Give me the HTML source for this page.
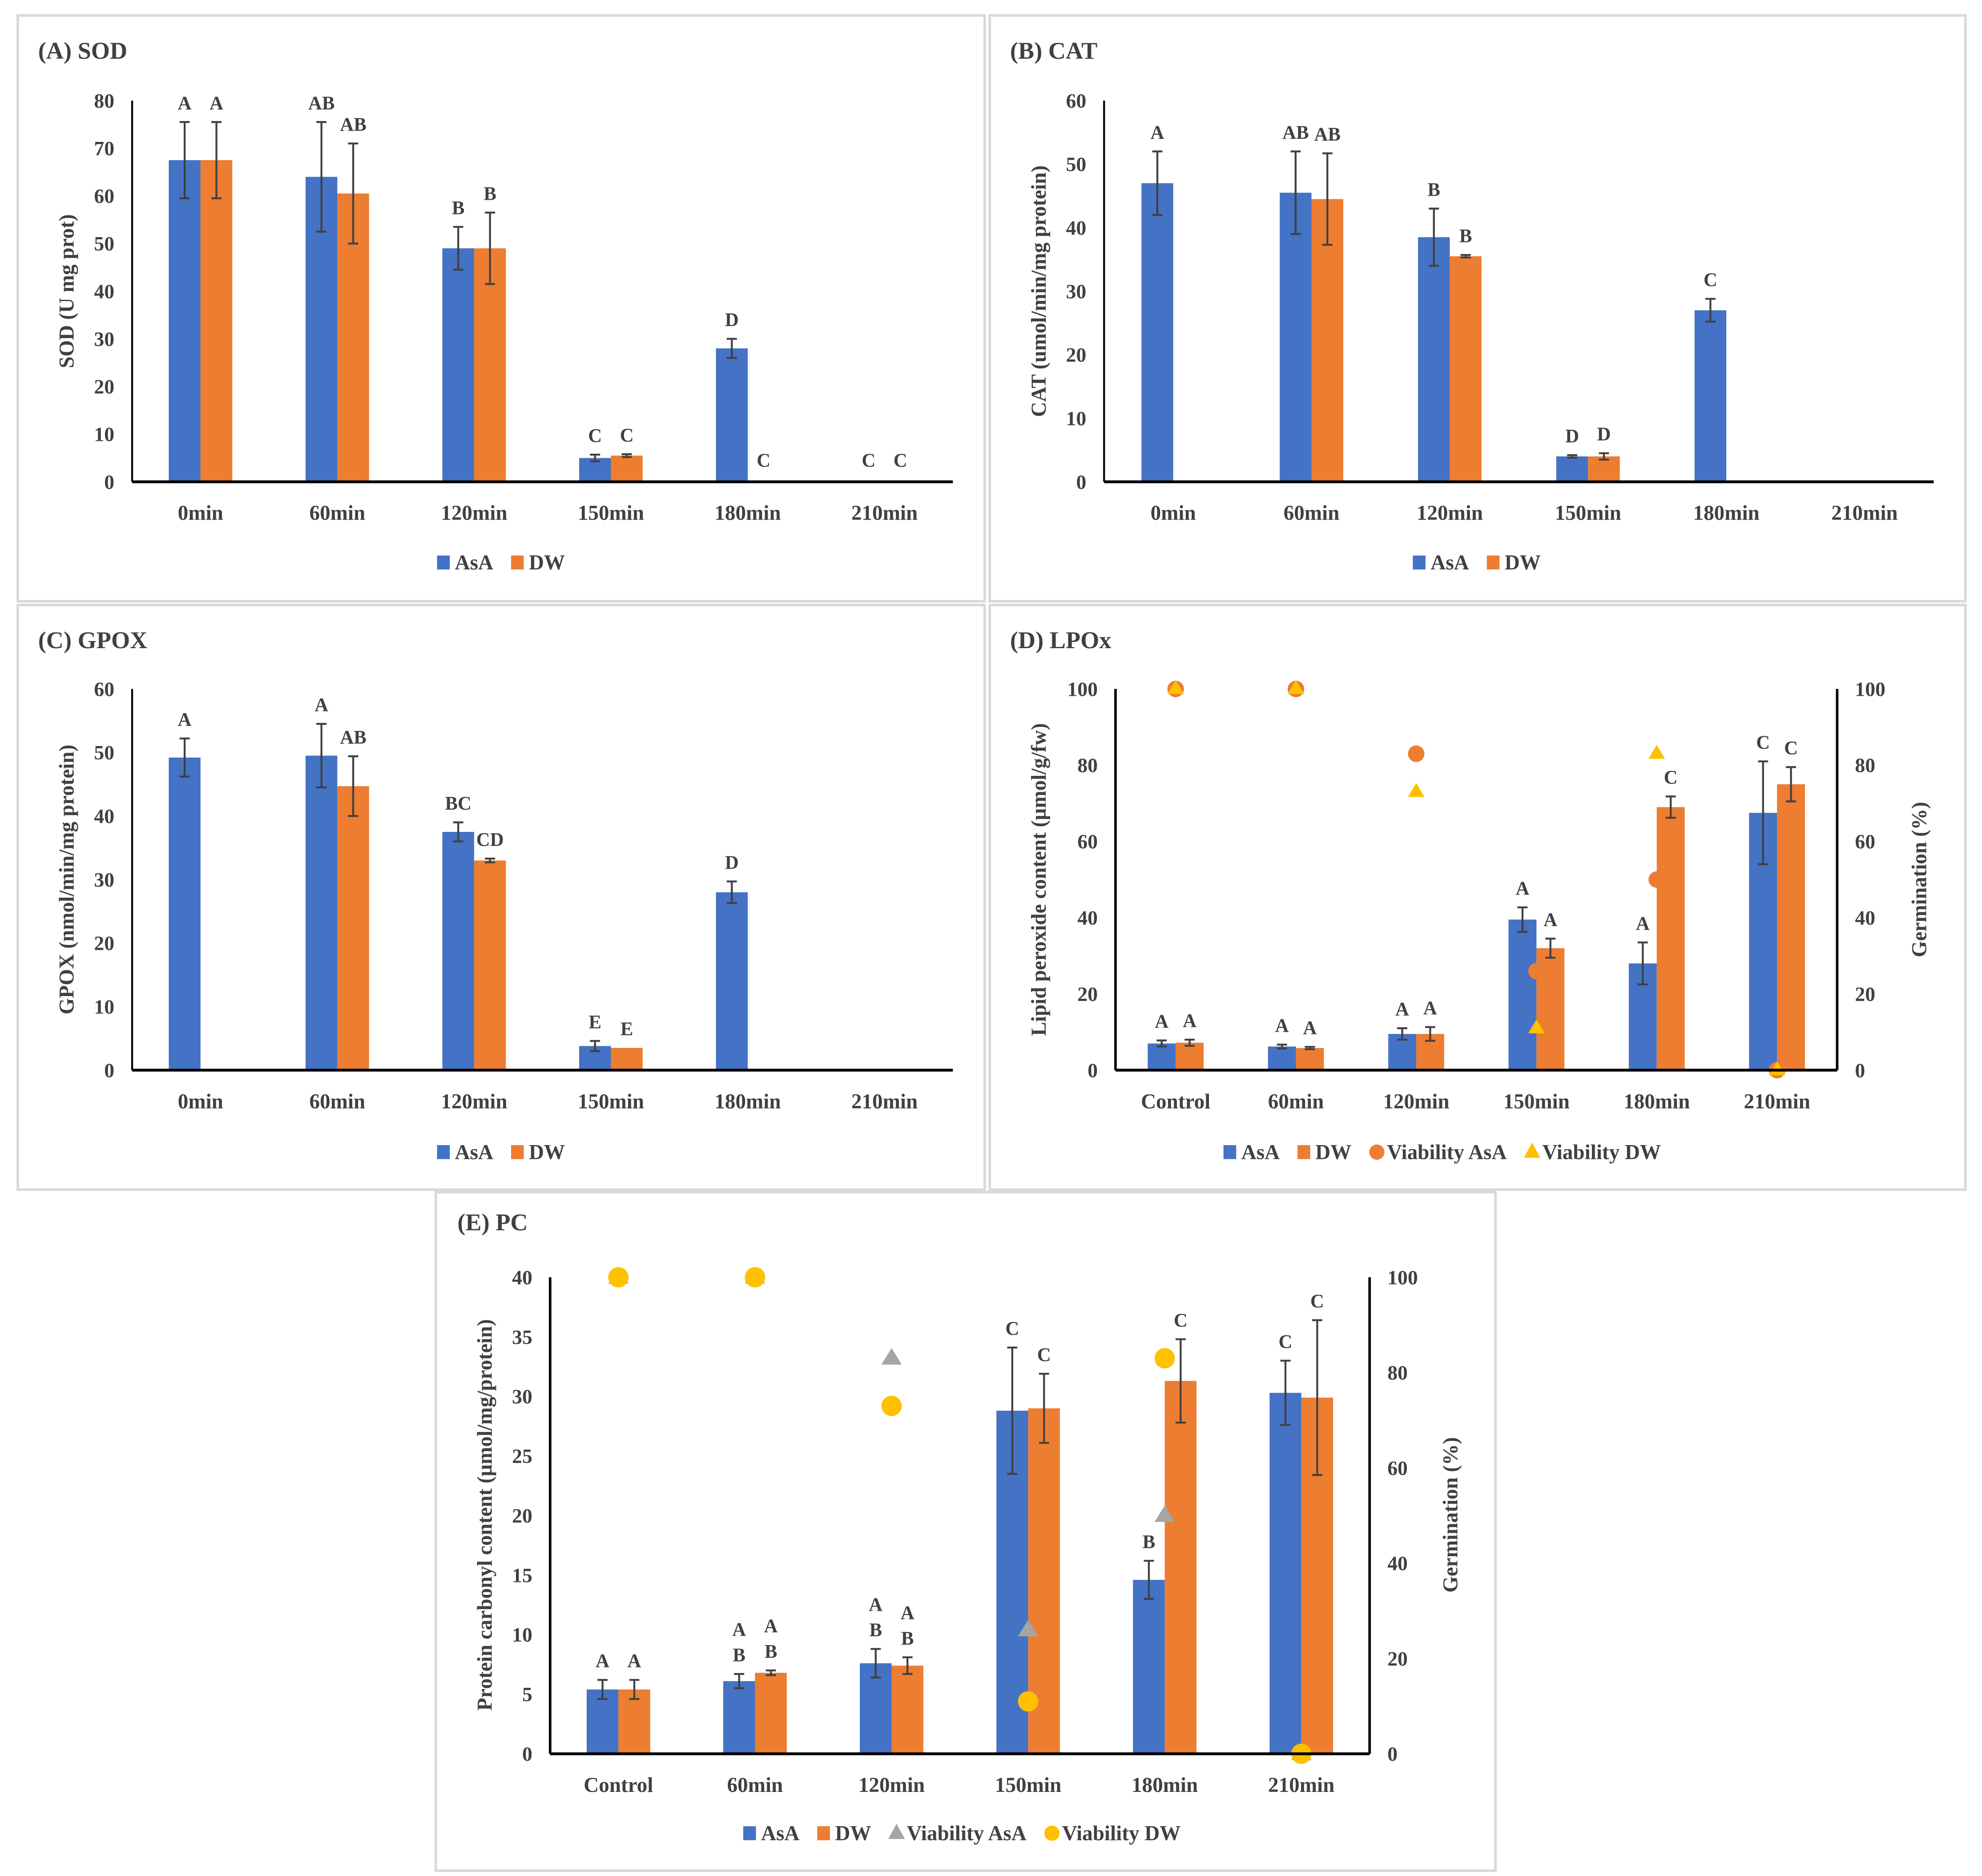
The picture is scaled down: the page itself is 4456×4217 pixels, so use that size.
<!DOCTYPE html>
<html><head><meta charset="utf-8"><title>Antioxidant enzymes panels</title>
<style>
html,body{margin:0;padding:0;background:#fff;}
svg{display:block;font-family:"Liberation Serif",serif;font-weight:bold;}
</style></head>
<body>
<svg id="fig" width="4456" height="4217" viewBox="0 0 1560 1476" xmlns="http://www.w3.org/2000/svg">
<rect x="0" y="0" width="1560" height="1476" fill="#fff"/>
</svg>
<script>
// ---------- data ----------
const catsMin = ["0min","60min","120min","150min","180min","210min"];
const catsCtl = ["Control","60min","120min","150min","180min","210min"];

const sodAsA = [67.5,64,49,5,28,0];
const sodAsAErr = [8,11.5,4.5,0.7,2,0];
const sodDW = [67.5,60.5,49,5.5,0,0];
const sodDWErr = [8,10.5,7.5,0.3,0,0];
const sodAsALet = ["A","AB","B","C","D","C"];
const sodDWLet = ["A","AB","B","C","C","C"];
const sodTicks = [0,10,20,30,40,50,60,70,80];

const catAsA = [47,45.5,38.5,4,27,0];
const catAsAErr = [5,6.5,4.5,0.2,1.8,0];
const catDW = [0,44.5,35.5,4,0,0];
const catDWErr = [0,7.2,0.2,0.5,0,0];
const catAsALet = ["A","AB","B","D","C",""];
const catDWLet = ["","AB","B","D","",""];
const catTicks = [0,10,20,30,40,50,60];

const gpoxAsA = [49.2,49.5,37.5,3.8,28,0];
const gpoxAsAErr = [3,5,1.5,0.8,1.7,0];
const gpoxDW = [0,44.7,33,3.5,0,0];
const gpoxDWErr = [0,4.7,0.3,0,0,0];
const gpoxAsALet = ["A","A","BC","E","D",""];
const gpoxDWLet = ["","AB","CD","E","",""];
const gpoxTicks = [0,10,20,30,40,50,60];

const lpoAsA = [7,6.2,9.5,39.5,28,67.5];
const lpoAsAErr = [0.8,0.5,1.5,3.2,5.5,13.5];
const lpoDW = [7.2,5.8,9.5,32,69,75];
const lpoDWErr = [0.8,0.3,1.8,2.5,2.8,4.5];
const lpoAsALet = ["A","A","A","A","A","C"];
const lpoDWLet = ["A","A","A","A","C","C"];
const lpoViabAsA = [100,100,83,26,50,0];
const lpoViabDW = [100,100,73,11,83,0];
const lpoTicks = [0,20,40,60,80,100];
const lpoRTicks = [0,20,40,60,80,100];

const pcAsA = [5.4,6.1,7.6,28.8,14.6,30.3];
const pcAsAErr = [0.8,0.6,1.2,5.3,1.6,2.7];
const pcDW = [5.4,6.8,7.4,29,31.3,29.9];
const pcDWErr = [0.8,0.2,0.7,2.9,3.5,6.5];
const pcAsALet = ["A","A\nB","A\nB","C","B","C"];
const pcDWLet = ["A","A\nB","A\nB","C","C","C"];
const pcViabAsA = [100,100,83,26,50,0];
const pcViabDW = [100,100,73,11,83,0];
const pcTicks = [0,5,10,15,20,25,30,35,40];
const pcRTicks = [0,20,40,60,80,100];

// ---------- drawing ----------
const NS = "http://www.w3.org/2000/svg";
const svg = document.getElementById("fig");
const BLUE="#4472C4", ORANGE="#ED7D31", GRAY="#A5A5A5", YEL="#FFC000", TXT="#404040", ERR="#404040";
function mk(tag, attrs, parent, text){
  const e=document.createElementNS(NS,tag);
  for(const k in attrs) e.setAttribute(k,attrs[k]);
  if(text!==undefined) e.textContent=text;
  (parent||svg).appendChild(e);
  return e;
}

function panel(c){
  const g = mk("g",{});
  
  
  const box = mk("rect",{x:c.box[0],y:c.box[1],width:c.box[2],height:c.box[3],fill:"none",stroke:"#d9d9d9","stroke-width":2},g);
  
  
  const t = mk("text",{x:c.title[0],y:c.title[1],"font-size":19,fill:TXT},g,c.titleText);
  
  

  const ymax=c.ticks[c.ticks.length-1];
  const Y = v => c.y0 - (v/ymax)*(c.y0-c.yTop);
  const n=c.cats.length, step=(c.x1-c.x0)/n;
  const CX = i => c.x0 + step*(i+0.5);

  c.ticks.forEach(v=>{
    const e=mk("text",{x:c.x0-14,y:Y(v)+5.5,"font-size":16,fill:TXT,"text-anchor":"end"},g,String(v));
    
    
  });
  const la=mk("line",{x1:c.x0,y1:c.yTop,x2:c.x0,y2:c.y0,stroke:"#000","stroke-width":c.rTicks?2:1.5},g);
  
  
  const yt=mk("text",{transform:`translate(${c.yTitle[0]},${c.yTitle[1]}) rotate(-90)`,"font-size":16.5,fill:TXT,"text-anchor":"middle"},g,c.yTitleText);
  
  

  let R=null;
  if(c.rTicks){
    const rmax=c.rTicks[c.rTicks.length-1];
    R = v => c.y0 - (v/rmax)*(c.y0-c.yTop);
    c.rTicks.forEach(v=>{
      const e=mk("text",{x:c.x1+14,y:R(v)+5.5,"font-size":16,fill:TXT},g,String(v));
      
      
    });
    const ra=mk("line",{x1:c.x1,y1:c.yTop,x2:c.x1,y2:c.y0,stroke:"#000","stroke-width":2},g);
    
    
    const rt=mk("text",{transform:`translate(${c.rTitle[0]},${c.rTitle[1]}) rotate(-90)`,"font-size":16.5,fill:TXT,"text-anchor":"middle"},g,"Germination (%)");
    
    
  }

  const series=[[c.a,c.aErr,c.aLet,BLUE,-1,"asa"],[c.d,c.dErr,c.dLet,ORANGE,0,"dw"]];
  series.forEach(([vals,errs,lets,col,off,key])=>{
    vals.forEach((v,i)=>{
      const x=CX(i)+off*c.bw;
      if(v>0){
        const b=mk("rect",{x:x,y:Y(v),width:c.bw,height:c.y0-Y(v),fill:col},g);
        
        
      }
      const ex=x+c.bw/2;
      let top=Y(v);
      if(errs[i]>0){
        const y1=Y(v+errs[i]), y2=Y(v-errs[i]);
        top=y1;
        const eg=mk("path",{d:`M${ex},${y1}V${y2}M${ex-4},${y1}H${ex+4}M${ex-4},${y2}H${ex+4}`,stroke:ERR,"stroke-width":1.5,fill:"none"},g);
        
        
      }
      const L=lets[i];
      if(L){
        const lines=L.split("\n");
        const base=(v===0? c.y0-12 : top-10);
        lines.forEach((s,k)=>{
          const e=mk("text",{x:ex,y:base-(lines.length-1-k)*20,"font-size":15,fill:TXT,"text-anchor":"middle"},g,s);
          
          
        });
      }
    });
  });

  if(c.va){
    c.va.forEach((v,i)=>{
      let e;
      if(c.vaShape==="circle") e=mk("circle",{cx:CX(i),cy:R(v),r:6.5,fill:c.vaCol},g);
      else e=mk("path",{d:`M${CX(i)},${R(v)-8}l8,13h-16z`,fill:c.vaCol},g);
      
      
    });
    c.vd.forEach((v,i)=>{
      let e;
      if(c.vdShape==="circle") e=mk("circle",{cx:CX(i),cy:R(v),r:8,fill:c.vdCol},g);
      else e=mk("path",{d:`M${CX(i)},${R(v)-7}l6.5,11h-13z`,fill:c.vdCol},g);
      
      
    });
  }

  const xa=mk("line",{x1:c.x0,y1:c.y0,x2:c.x1,y2:c.y0,stroke:"#000","stroke-width":2.2},g);
  
  
  c.cats.forEach((s,i)=>{
    const e=mk("text",{x:CX(i),y:c.y0+30,"font-size":16.5,fill:TXT,"text-anchor":"middle"},g,s);
    
    
  });

  let lx=c.legend[0]; const ly=c.legend[1];
  c.legendItems.forEach(([label,col,shape])=>{
    const lg=mk("g",{},g);
    
    
    if(shape==="sq") mk("rect",{x:lx,y:ly-11,width:10,height:11,fill:col},lg);
    else if(shape==="circle") mk("circle",{cx:lx+6,cy:ly-5.5,r:6,fill:col},lg);
    else mk("path",{d:`M${lx+6},${ly-13}l6.5,12h-13z`,fill:col},lg);
    const t=mk("text",{x:lx+14,y:ly,"font-size":16.5,fill:TXT},lg,label);
    let w; try{ w=t.getComputedTextLength(); }catch(e){ w=label.length*8; }
    if(!w) w=label.length*8;
    lx += 14 + w + 14;
  });
}

const legAD=[["AsA",BLUE,"sq"],["DW",ORANGE,"sq"]];
panel({name:"panel-a-sod",box:[14,12,761,461],title:[30,46],titleText:"(A) SOD",cats:catsMin,
  x0:104,x1:750,y0:379,yTop:79,ticks:sodTicks,bw:25,yTitle:[58,229],yTitleText:"SOD (U mg prot)",
  a:sodAsA,aErr:sodAsAErr,aLet:sodAsALet,d:sodDW,dErr:sodDWErr,dLet:sodDWLet,legend:[344,448],legendItems:legAD});
panel({name:"panel-b-cat",box:[779,12,768,461],title:[795,46],titleText:"(B) CAT",cats:catsMin,
  x0:869,x1:1522,y0:379,yTop:79,ticks:catTicks,bw:25,yTitle:[823,229],yTitleText:"CAT (umol/min/mg protein)",
  a:catAsA,aErr:catAsAErr,aLet:catAsALet,d:catDW,dErr:catDWErr,dLet:catDWLet,legend:[1112,448],legendItems:legAD});
panel({name:"panel-c-gpox",box:[14,476,761,460],title:[30,510],titleText:"(C) GPOX",cats:catsMin,
  x0:104,x1:750,y0:842,yTop:542,ticks:gpoxTicks,bw:25,yTitle:[58,692],yTitleText:"GPOX (nmol/min/mg protein)",
  a:gpoxAsA,aErr:gpoxAsAErr,aLet:gpoxAsALet,d:gpoxDW,dErr:gpoxDWErr,dLet:gpoxDWLet,legend:[344,912],legendItems:legAD});
panel({name:"panel-d-lpox",box:[779,476,768,460],title:[795,510],titleText:"(D) LPOx",cats:catsCtl,
  x0:878,x1:1446,y0:842,yTop:542,ticks:lpoTicks,rTicks:lpoRTicks,rTitle:[1516,692],bw:22,yTitle:[823,692],
  yTitleText:"Lipid peroxide content (µmol/g/fw)",
  a:lpoAsA,aErr:lpoAsAErr,aLet:lpoAsALet,d:lpoDW,dErr:lpoDWErr,dLet:lpoDWLet,
  va:lpoViabAsA,vaShape:"circle",vaCol:ORANGE,vd:lpoViabDW,vdShape:"tri",vdCol:YEL,
  legend:[963,912],legendItems:[["AsA",BLUE,"sq"],["DW",ORANGE,"sq"],["Viability AsA",ORANGE,"circle"],["Viability DW",YEL,"tri"]]});
panel({name:"panel-e-pc",box:[343,938,834,534],title:[360,968],titleText:"(E) PC",cats:catsCtl,
  x0:433,x1:1078,y0:1380,yTop:1005,ticks:pcTicks,rTicks:pcRTicks,rTitle:[1147,1192],bw:25,yTitle:[387,1192],
  yTitleText:"Protein carbonyl content (µmol/mg/protein)",
  a:pcAsA,aErr:pcAsAErr,aLet:pcAsALet,d:pcDW,dErr:pcDWErr,dLet:pcDWLet,
  va:pcViabAsA,vaShape:"tri",vaCol:GRAY,vd:pcViabDW,vdShape:"circle",vdCol:YEL,
  legend:[585,1448],legendItems:[["AsA",BLUE,"sq"],["DW",ORANGE,"sq"],["Viability AsA",GRAY,"tri"],["Viability DW",YEL,"circle"]]});
</script>
</body></html>
